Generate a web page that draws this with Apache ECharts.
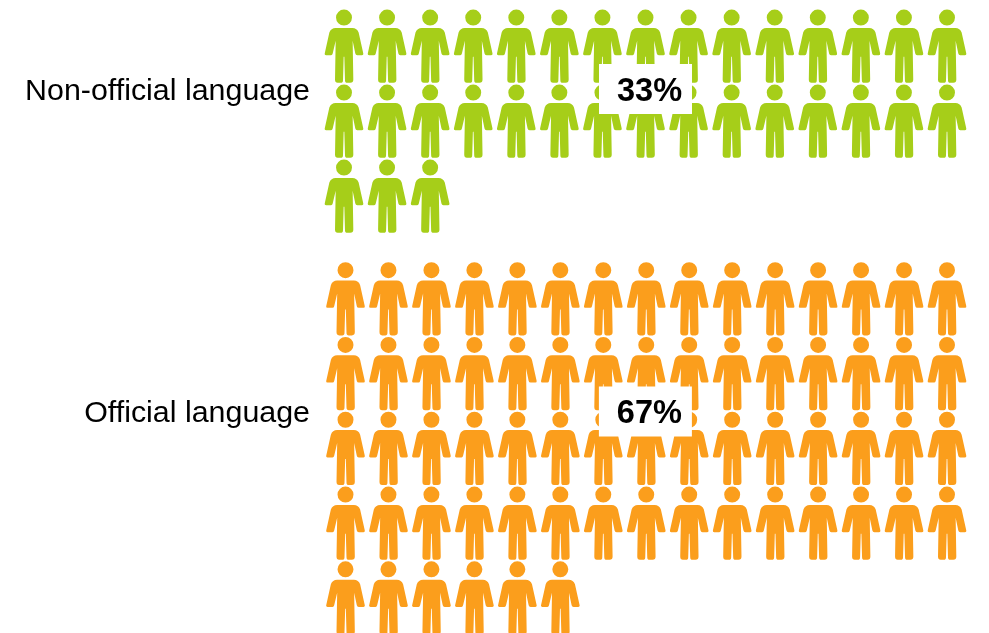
<!DOCTYPE html>
<html>
<head>
<meta charset="utf-8">
<style>html,body{margin:0;padding:0;background:#fff}#chart{width:989px;height:633px}</style>
<script src="https://cdn.jsdelivr.net/npm/echarts@6/dist/echarts.min.js"></script>
</head>
<body>
<div id="chart"></div>
<script>
// Language groups and how many people each one holds
const groupNames = ['Non-official language', 'Official language'];
const peopleCounts = [33, 66];
const groupColors = ['#a6ce19', '#fb9e1c'];

const PER_ROW = 15;
const total = peopleCounts.reduce((a, b) => a + b, 0);

// Person glyph: round head above a torso with arms and legs
const PERSON = 'path://M47 52A24 24 0 1 1 95 52A24 24 0 1 1 47 52Z' +
  'M46 83L96 83Q110 83 115 97L129 160Q130 165 125 165L111 165Q106 165 105 160L97 122L99 238' +
  'Q99 248 90 248L81 248Q74 248 74 240L72 170L70 170L68 240Q68 248 61 248L52 248' +
  'Q44 248 44 238L46 122L37 160Q36 165 32 165L17 165Q12 165 13 160L27 97Q32 83 46 83Z';

// Each group gets its own grid; one axis unit is one column or one row
const layout = [
  { left: 344, right: 947, top: 46.2, rowStep: 75, label: [7.0, 0.571], nameAt: 0.6 },
  { left: 345.5, right: 947, top: 298.8, rowStep: 74.8, label: [6.98, 1.507], nameAt: 1.535 }
];

const grids = [], xAxes = [], yAxes = [], series = [];
groupNames.forEach((name, g) => {
  const box = layout[g];
  const rows = Math.ceil(peopleCounts[g] / PER_ROW);
  grids.push({ left: box.left, top: box.top, width: box.right - box.left, height: box.rowStep * (rows - 1) });
  xAxes.push({ gridIndex: g, type: 'value', min: 0, max: PER_ROW - 1, show: false });
  yAxes.push({
    gridIndex: g, type: 'value', min: 0, max: rows - 1, inverse: true,
    axisLine: { show: false }, axisTick: { show: false }, splitLine: { show: false },
    axisLabel: {
      customValues: [box.nameAt],
      formatter: () => name,
      margin: box.left - 310,
      color: '#000',
      fontFamily: 'Liberation Sans',
      fontSize: 30.4
    }
  });
  const people = [];
  for (let i = 0; i < peopleCounts[g]; i++) {
    people.push([i % PER_ROW, Math.floor(i / PER_ROW)]);
  }
  series.push({
    type: 'scatter', xAxisIndex: g, yAxisIndex: g, clip: false, silent: true,
    symbol: PERSON, symbolSize: [38.7, 73.3], itemStyle: { color: groupColors[g], opacity: 1 },
    data: people
  });
  // Share of the whole, on a white plate over the glyphs
  series.push({
    type: 'scatter', xAxisIndex: g, yAxisIndex: g, clip: false, silent: true, z: 5,
    symbol: 'rect', symbolSize: [93, 50], itemStyle: { color: '#fff', opacity: 1 },
    label: {
      show: true, position: 'inside', align: 'center', verticalAlign: 'middle', offset: [4, 3],
      formatter: Math.round(peopleCounts[g] / total * 100) + '%',
      color: '#000', fontFamily: 'Liberation Sans', fontWeight: 'bold', fontSize: 32.5
    },
    data: [box.label]
  });
});

const chart = echarts.init(document.getElementById('chart'), null, { renderer: 'canvas' });
chart.setOption({
  animation: false,
  backgroundColor: '#fff',
  grid: grids,
  xAxis: xAxes,
  yAxis: yAxes,
  series
});
</script>
</body>
</html>
